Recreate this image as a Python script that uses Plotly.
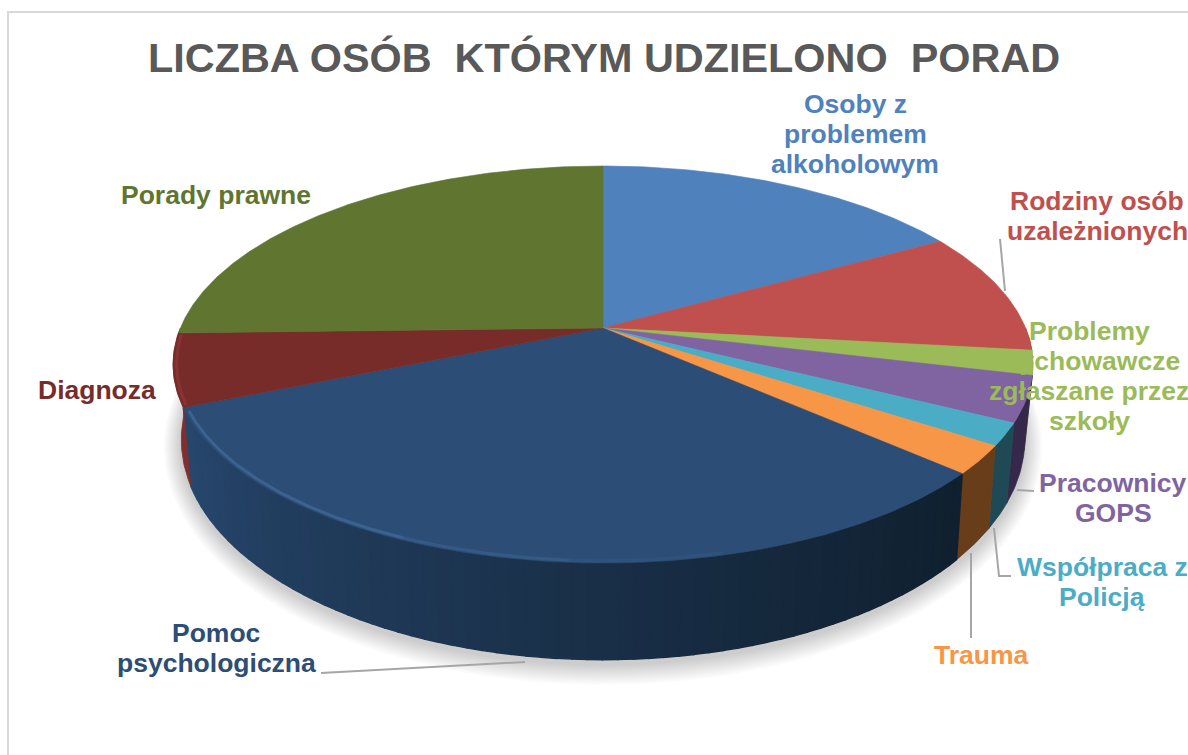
import math
import plotly.graph_objects as go

TITLE = "LICZBA OSÓB&nbsp; KTÓRYM UDZIELONO&nbsp; PORAD"
categories = ["Osoby z problemem alkoholowym", "Rodziny osób uzależnionych",
              "Problemy wychowawcze zgłaszane przez szkoły", "Pracownicy GOPS",
              "Współpraca z Policją", "Trauma", "Pomoc psychologiczna", "Diagnoza", "Porady prawne"]
values = [16.8, 10.0, 2.0, 3.7, 1.8, 2.3, 32.1, 5.9, 25.4]
label_lines = [["Osoby z", "problemem", "alkoholowym"], ["Rodziny osób", "uzależnionych"],
               ["Problemy", "wychowawcze", "zgłaszane przez", "szkoły"], ["Pracownicy", "GOPS"],
               ["Współpraca z", "Policją"], ["Trauma"], ["Pomoc", "psychologiczna"], ["Diagnoza"], ["Porady prawne"]]
top_colors = ["#4f81bd", "#c0504d", "#9bbb59", "#8064a2", "#4bacc6", "#f79646", "#2c4d75", "#772c2a", "#5f7530"]
side_colors = ["#3a5f8c", "#8e3b39", "#72893f", "#35284a", "#1f4a55", "#673d1a", "#28486f", "#7f302e", "#465722"]
label_pos = [(855, 134), (1097, 216), (1089, 376), (1113, 498), (1102, 582), (981, 655), (216, 648), (97, 390), (216, 195)]

# projective model of the tilted disc (top face and bottom face)
CX = 603
TOP = dict(a=0.184, c=422.6, b=191.8, y0=328)
BOT = dict(a=0.19, c=414.0, b=212.0, y0=398)


def project(theta, face, r=1.0):
    X, Y = r * math.sin(theta), r * math.cos(theta)
    w = 1 + face["a"] * Y
    return CX + face["c"] * X / w, face["y0"] - face["b"] * Y / w


def arc(a0, a1, face, step=0.01, r=1.0):
    n = max(2, int(abs(a1 - a0) / step) + 1)
    return [project(a0 + (a1 - a0) * i / (n - 1), face, r) for i in range(n)]


def rgb(h):
    return tuple(int(h[i:i + 2], 16) for i in (1, 3, 5))


fig = go.Figure()


def poly(pts, fill, line=None, width=1.4):
    xs = [p[0] for p in pts] + [pts[0][0]]
    ys = [p[1] for p in pts] + [pts[0][1]]
    fig.add_trace(go.Scatter(x=xs, y=ys, mode="lines", fill="toself", fillcolor=fill,
                             line=dict(color=line or fill, width=width if line else 0),
                             hoverinfo="skip", showlegend=False))


# soft shadow beneath the disc
for i in range(10):
    g = 17 - i * 1.7
    sh = dict(a=BOT["a"], c=BOT["c"] + g, b=BOT["b"] + g, y0=BOT["y0"] + 4)
    poly(arc(0, 2 * math.pi, sh, 0.03), "rgba(0,0,0,0.02)")

# slice angles
total = sum(values)
edges = [0.0]
for v in values:
    edges.append(edges[-1] + v / total * 2 * math.pi)

# side wall strips
for i, col in enumerate(side_colors):
    a0, a1 = max(edges[i], math.pi * 0.5), min(edges[i + 1], math.pi * 1.5)
    if a1 <= a0:
        continue
    if categories[i] == "Pomoc psychologiczna":
        n = max(1, int((a1 - a0) / 0.03))
        for k in range(n):
            s0 = a0 + (a1 - a0) * k / n
            s1 = a0 + (a1 - a0) * (k + 1) / n
            t = (k + 0.5) / n
            t0, t1 = rgb("#10202f"), rgb("#28486f")
            c = tuple(int(t0[j] + (t1[j] - t0[j]) * t ** 1.1) for j in range(3))
            color = "rgb(%d,%d,%d)" % c
            poly(arc(s0, s1, TOP, 0.01) + arc(s1, s0, BOT, 0.01), color, color)
    else:
        poly(arc(a0, a1, TOP, 0.01) + arc(a1, a0, BOT, 0.01), col, col, 0.8)

# top faces
for i, col in enumerate(top_colors):
    pts = [project(0, TOP, 0)] + arc(edges[i], edges[i + 1], TOP)
    poly(pts, col, col, 0.6)

# light bevel along the rim of the front slices, fading towards the dark right side
i = categories.index("Pomoc psychologiczna")
span = edges[i + 1] - edges[i]
for f0, f1, op in [(0.30, 0.45, 0.25), (0.45, 0.62, 0.55), (0.62, 0.99, 0.85)]:
    pts = arc(edges[i] + span * f0, edges[i] + span * f1, TOP, 0.01, 0.992)
    fig.add_trace(go.Scatter(x=[p[0] for p in pts], y=[p[1] for p in pts], mode="lines",
                             line=dict(color="#3f6695", width=3), opacity=op,
                             hoverinfo="skip", showlegend=False))
i = categories.index("Diagnoza")
pts = arc(edges[i] + 0.01, edges[i + 1] - 0.01, TOP, 0.01, 0.992)
fig.add_trace(go.Scatter(x=[p[0] for p in pts], y=[p[1] for p in pts], mode="lines",
                         line=dict(color="#8c3836", width=3), opacity=0.8,
                         hoverinfo="skip", showlegend=False))

# leader lines
leaders = [[(1000, 239), (1005, 291)], [(1017, 490), (1034, 491)],
           [(994, 528), (999, 576), (1011, 576)], [(971, 553), (971, 638)],
           [(321, 673), (525, 662)]]
for seg in leaders:
    fig.add_trace(go.Scatter(x=[p[0] for p in seg], y=[p[1] for p in seg], mode="lines",
                             line=dict(color="#a6a6a6", width=2), hoverinfo="skip", showlegend=False))

LINE_GAP = 30
for lines, (x, y), col in zip(label_lines, label_pos, top_colors):
    for k, txt in enumerate(lines):
        fig.add_annotation(x=x, y=y + (k - (len(lines) - 1) / 2) * LINE_GAP, text="<b>%s</b>" % txt,
                           showarrow=False, xanchor="center", yanchor="middle",
                           font=dict(family="Liberation Sans", size=26.5, color=col))

fig.add_annotation(x=603.5, y=58, text="<b>%s</b>" % TITLE, showarrow=False, xanchor="center", yanchor="middle",
                   font=dict(family="Liberation Sans", size=41.4, color="#595959"))

fig.add_shape(type="rect", x0=8, y0=12, x1=1300, y1=900, line=dict(color="#d9d9d9", width=2), layer="below")

fig.update_layout(width=1188, height=755, margin=dict(l=0, r=0, t=0, b=0),
                  paper_bgcolor="white", plot_bgcolor="white", showlegend=False,
                  xaxis=dict(range=[0, 1188], visible=False, fixedrange=True),
                  yaxis=dict(range=[755, 0], visible=False, fixedrange=True))
fig.write_html("out.html", config=dict(displayModeBar=False),
               post_script="document.documentElement.style.overflow='hidden';document.body.style.margin='0';")
